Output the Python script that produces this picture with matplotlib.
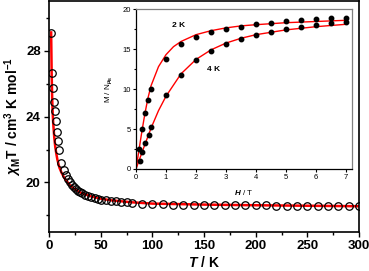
import numpy as np
import matplotlib
matplotlib.use('Agg')
import matplotlib.pyplot as plt
from matplotlib.ticker import MultipleLocator

plt.rcParams['font.family'] = 'Liberation Sans'
plt.rcParams['font.weight'] = 'bold'
plt.rcParams['mathtext.fontset'] = 'custom'
plt.rcParams['mathtext.rm'] = 'Liberation Sans:bold'
plt.rcParams['mathtext.it'] = 'Liberation Sans:italic:bold'
plt.rcParams['mathtext.bf'] = 'Liberation Sans:bold'

# chi_M T vs T data
T = [2, 3, 4, 5, 6, 7, 8, 9, 10, 12, 14, 16, 18, 20, 22, 24, 26, 28, 30, 32,
     35, 38, 41, 44, 47, 50, 55, 60, 65, 70, 75, 80, 90, 100, 110, 120, 130,
     140, 150, 160, 170, 180, 190, 200, 210, 220, 230, 240, 250, 260, 270,
     280, 290, 300]
chiT = [29.05, 26.65, 25.7, 24.9, 24.35, 23.7, 23.05, 22.5, 21.95, 21.2,
        20.75, 20.45, 20.2, 20.0, 19.85, 19.7, 19.6, 19.5, 19.42, 19.35,
        19.27, 19.2, 19.12, 19.06, 19.0, 18.96, 18.92, 18.88, 18.85, 18.82,
        18.8, 18.78, 18.7, 18.68, 18.67, 18.66, 18.66, 18.65, 18.64, 18.63,
        18.63, 18.62, 18.62, 18.61, 18.61, 18.6, 18.6, 18.59, 18.59, 18.58,
        18.58, 18.57, 18.57, 18.56]
T_fit = [2, 2.5, 3, 3.5, 4, 5, 6, 7, 8, 10, 12, 15, 20, 25, 30, 35, 40, 50,
         60, 80, 100, 150, 200, 250, 300]
chiT_fit = [29.1, 26.6, 25.1, 24.2, 23.6, 22.75, 22.15, 21.75, 21.4, 20.9,
            20.6, 20.25, 19.85, 19.58, 19.4, 19.28, 19.17, 19.02, 18.92,
            18.8, 18.72, 18.66, 18.62, 18.59, 18.56]

# magnetisation inset data
H2 = [0.1, 0.2, 0.3, 0.4, 0.5, 1.0, 1.5, 2.0, 2.5, 3.0, 3.5, 4.0, 4.5, 5.0,
      5.5, 6.0, 6.5, 7.0]
M2 = [2.5, 5.0, 7.0, 8.6, 10.0, 13.75, 15.6, 16.5, 17.1, 17.5, 17.8, 18.1,
      18.3, 18.5, 18.6, 18.7, 18.85, 18.9]
H4 = [0.13, 0.21, 0.31, 0.42, 0.5, 1.0, 1.5, 2.0, 2.5, 3.0, 3.5, 4.0, 4.5,
      5.0, 5.5, 6.0, 6.5, 7.0]
M4 = [1.0, 2.1, 3.2, 4.2, 5.2, 9.2, 11.8, 13.6, 14.75, 15.6, 16.25, 16.8,
      17.1, 17.45, 17.8, 18.05, 18.2, 18.4]
H2_fit = [0, 0.1, 0.2, 0.3, 0.4, 0.5, 0.75, 1.0, 1.25, 1.5, 2.0, 2.5, 3.0,
          3.5, 4.0, 5.0, 6.0, 7.0]
M2_fit = [0, 2.4, 4.8, 7.0, 8.9, 10.4, 12.8, 14.3, 15.3, 15.95, 16.8, 17.3,
          17.65, 17.9, 18.05, 18.3, 18.45, 18.6]
H4_fit = [0, 0.25, 0.5, 0.75, 1.0, 1.5, 2.0, 2.5, 3.0, 3.5, 4.0, 5.0, 6.0, 7.0]
M4_fit = [0, 2.6, 5.1, 7.3, 9.1, 11.9, 13.7, 14.9, 15.75, 16.35, 16.8, 17.4,
          17.8, 18.1]

fig = plt.figure(figsize=(3.69, 2.71), dpi=100)
ax = fig.add_axes((0.133, 0.144, 0.840, 0.852))

ax.plot(T_fit, chiT_fit, color='red', linewidth=1.8, zorder=2)
ax.plot(T, chiT, 'o', markersize=5.4, markerfacecolor='none',
        markeredgecolor='black', markeredgewidth=0.9, zorder=3)

ax.set_xlim(0, 300)
ax.set_ylim(17, 31)
ax.xaxis.set_major_locator(MultipleLocator(50))
ax.xaxis.set_minor_locator(MultipleLocator(25))
ax.yaxis.set_major_locator(MultipleLocator(4))
ax.yaxis.set_minor_locator(MultipleLocator(2))
ax.tick_params(which='major', direction='out', length=3.5, width=1,
               labelsize=9.5, pad=2.5)
ax.tick_params(which='minor', direction='out', length=2, width=1)
for s in ax.spines.values():
    s.set_linewidth(1.2)
ax.set_xlabel('$T$ / K', fontsize=10, fontweight='bold', labelpad=2)
ax.set_ylabel(r'$\chi_{\rm M}$T / cm$^3$ K mol$^{-1}$', fontsize=10,
              fontweight='bold', labelpad=1)

# inset
ins = fig.add_axes((0.3686, 0.3764, 0.585, 0.590))
ins.plot(H2_fit, M2_fit, color='red', linewidth=1.0, zorder=2)
ins.plot(H4_fit, M4_fit, color='red', linewidth=1.0, zorder=2)
ins.plot(H2, M2, 'o', color='black', markersize=3.2, zorder=3)
ins.plot(H4, M4, 'o', color='black', markersize=3.2, zorder=3)
ins.set_xlim(0, 7.2)
ins.set_ylim(0, 20)
ins.xaxis.set_major_locator(MultipleLocator(1))
ins.yaxis.set_major_locator(MultipleLocator(5))
ins.yaxis.set_minor_locator(MultipleLocator(2.5))
ins.tick_params(which='major', direction='out', length=2, width=0.8,
                labelsize=5.5, pad=1.5)
ins.tick_params(which='minor', direction='out', length=1.2, width=0.8)
for lab in ins.get_xticklabels() + ins.get_yticklabels():
    lab.set_fontweight('normal')
for s in ['top', 'right']:
    ins.spines[s].set_color('#808080')
for s in ins.spines.values():
    s.set_linewidth(0.9)
ins.set_xlabel('$H$ / T', fontsize=5.8, labelpad=5)
ins.set_ylabel(r'M / N$_{\mu_{\rm B}}$', fontsize=5.8, labelpad=6)
ins.text(1.43, 17.9, '2 K', fontsize=6, fontweight='bold', ha='center', va='center')
ins.text(2.57, 12.5, '4 K', fontsize=6, fontweight='bold', ha='center', va='center')

fig.savefig('out.png', dpi=100)
